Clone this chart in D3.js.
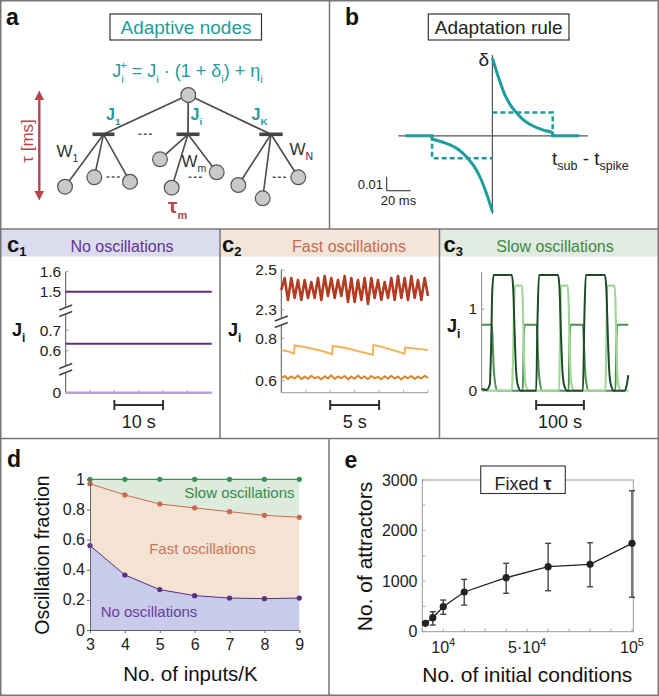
<!DOCTYPE html>
<html><head><meta charset="utf-8">
<script src="https://cdn.jsdelivr.net/npm/d3@7"></script>
<style>
body{margin:0;background:#fff}
svg{display:block}
text{font-family:"Liberation Sans",Arial,Helvetica,sans-serif;white-space:pre}
</style>
</head><body>
<svg id="fig" width="659" height="696"></svg>
<script>
// ================= DATA =================
// panel b : adaptation rule, delta vs (t_sub - t_spike) in ms
const adaptPosT = [0, 5, 10, 15, 20, 25, 30, 35, 40, 45, 50];
const adaptPosV = [0.0555, 0.042, 0.030, 0.022, 0.0165, 0.012, 0.0088, 0.0065, 0.0048, 0.0035, 0.0025];
const adaptNegT = [-50, -45, -40, -35, -30, -25, -20, -15, -10, -5, 0];
const adaptNegV = [-0.0025, -0.0035, -0.0048, -0.0065, -0.0088, -0.012, -0.0165, -0.022, -0.030, -0.041, -0.0543];
const adaptWindow = [-50, 50];
const adaptFlatEnd = [-72, 72];
const adaptDashLevel = [-0.016, 0.0167];

// panel c1 : no oscillations
const c1TickVals = [0, 0.6, 0.7, 1.5, 1.6];
const c1TickLabels = ["0", "0.6", "0.7", "1.5", "1.6"];
const c1Levels = [1.5, 0.635, 0];
const c1ScaleBar = [10, 20]; // s

// panel c2 : fast oscillations (sampled every 15/44 s)
const c2TickVals = [0.6, 0.8, 2.3, 2.5];
const c2TickLabels = ["0.6", "0.8", "2.3", "2.5"];
const c2Red = [2.40, 2.46, 2.35, 2.46, 2.36, 2.45, 2.35, 2.45, 2.36, 2.44, 2.36, 2.46, 2.35, 2.47, 2.37, 2.46,
  2.36, 2.45, 2.37, 2.47, 2.34, 2.46, 2.34, 2.45, 2.35, 2.46, 2.33, 2.46, 2.36, 2.45, 2.35, 2.44, 2.36, 2.46,
  2.35, 2.47, 2.36, 2.46, 2.35, 2.47, 2.36, 2.45, 2.35, 2.46, 2.37];
const c2Orange = [0.612, 0.622, 0.608, 0.620, 0.610, 0.624, 0.607, 0.619, 0.609, 0.623, 0.611, 0.618, 0.606,
  0.621, 0.610, 0.625, 0.608, 0.620, 0.611, 0.622, 0.606, 0.619, 0.609, 0.624, 0.610, 0.620, 0.607, 0.622,
  0.611, 0.618, 0.606, 0.621, 0.609, 0.623, 0.610, 0.619, 0.605, 0.620, 0.611, 0.622, 0.608, 0.619, 0.610, 0.623, 0.612];
const c2YellowT = [0, 0.7, 1.3, 1.36, 2.5, 4.0, 5.2, 5.26, 6.5, 8.0, 9.35, 9.41, 10.5, 12.6, 12.66, 14.0, 15];
const c2YellowV = [0.745, 0.738, 0.728, 0.766, 0.758, 0.742, 0.725, 0.764, 0.755, 0.738, 0.722, 0.768, 0.757, 0.727, 0.757, 0.750, 0.745];
const c2ScaleBar = [5, 10];

// panel c3 : slow oscillations
const c3TickVals = [0, 1];
const c3DarkT = [0, 10, 17, 20, 22, 25, 63, 66, 69, 72, 76, 82, 114, 117, 120, 160, 163, 166, 169, 173, 179, 212, 215, 218, 258, 261, 264, 267, 271, 277, 299, 304, 307];
const c3DarkV = [0.02, 0.01, 0.08, 0.6, 1.2, 1.42, 1.42, 1.25, 0.7, 0.25, 0.06, 0, 0, 0.9, 1.42, 1.42, 1.25, 0.7, 0.25, 0.06, 0, 0, 0.9, 1.42, 1.42, 1.25, 0.7, 0.25, 0.06, 0, 0, 0.08, 0.19];
const c3LightT = [0, 63, 66, 68, 70, 84, 86, 88, 90, 93, 98, 162, 164, 166, 180, 182, 184, 186, 189, 194, 259, 261, 263, 278, 280, 282, 284, 287, 292, 307];
const c3LightV = [0, 0, 0.5, 1.1, 1.29, 1.29, 1.1, 0.6, 0.2, 0.05, 0, 0, 0.6, 1.29, 1.29, 1.1, 0.6, 0.2, 0.05, 0, 0, 0.6, 1.29, 1.29, 1.1, 0.6, 0.2, 0.05, 0, 0];
const c3MidT = [0, 21, 23, 25, 28, 33, 86, 88, 90, 115, 117, 119, 122, 127, 182, 184, 186, 212, 214, 216, 219, 224, 280, 282, 284, 307];
const c3MidV = [0.81, 0.81, 0.6, 0.3, 0.1, 0, 0, 0.6, 0.81, 0.81, 0.6, 0.3, 0.1, 0, 0, 0.6, 0.81, 0.81, 0.6, 0.3, 0.1, 0, 0, 0.6, 0.81, 0.81];
const c3ScaleBar = [114, 214];

// panel d : oscillation fractions (cumulative boundaries)
const dInputs = [3, 4, 5, 6, 7, 8, 9];
const dNoOsc = [0.560, 0.365, 0.268, 0.228, 0.212, 0.208, 0.212];
const dNoPlusFast = [0.971, 0.896, 0.836, 0.810, 0.785, 0.761, 0.748];
const dAll = [1, 1, 1, 1, 1, 1, 1];
const dYTicks = [0, 0.2, 0.4, 0.6, 0.8, 1];
const dYLabels = ["0", "0.2", "0.4", "0.6", "0.8", "1"];

// panel e : number of attractors
const eInit = [1500, 5000, 10000, 20000, 40000, 60000, 80000, 100000];
const eMean = [166, 277, 494, 785, 1068, 1285, 1332, 1747];
const eLow = [166, 132, 344, 527, 759, 810, 889, 680];
const eHigh = [166, 395, 626, 1035, 1352, 1747, 1759, 2787];
const eYTicks = [0, 1000, 2000, 3000];
const eXTicks = [10000, 50000, 100000];
const eXTickLabels = [["10", "4"], ["5·10", "4"], ["10", "5"]];

// ================= DRAWING =================
const svg = d3.select("#fig");
const TEAL = "#1f9c9d", RED = "#b5474c", AX = "#555";

function rich(g, x, y, segs, o = {}) {
  const fs = o.size || 16;
  const t = g.append("text").attr("x", x).attr("y", y).attr("font-size", fs)
    .attr("fill", o.fill || "#222").attr("text-anchor", o.anchor || "start")
    .attr("font-weight", o.weight || "normal");
  if (o.transform) t.attr("transform", o.transform);
  let cur = 0;
  segs.forEach(s => {
    if (typeof s === "string") s = {t: s};
    const off = s.sub ? (s.off ?? fs * 0.32) : s.sup ? -(s.off ?? fs * 0.42) : 0;
    const sp = t.append("tspan").text(s.t);
    if (off - cur !== 0) sp.attr("dy", off - cur);
    if (s.dx) sp.attr("dx", s.dx);
    if (s.sub || s.sup) sp.attr("font-size", s.size || fs * 0.62);
    if (s.weight) sp.attr("font-weight", s.weight);
    if (s.fill) sp.attr("fill", s.fill);
    cur = off;
  });
  return t;
}
function line(g, x1, y1, x2, y2, col, w, extra) {
  const l = g.append("line").attr("x1", x1).attr("y1", y1).attr("x2", x2).attr("y2", y2)
    .attr("stroke", col).attr("stroke-width", w);
  if (extra) l.attr("stroke-dasharray", extra);
  return l;
}

// ---- background bands for c panels
svg.append("rect").attr("x", 1).attr("y", 229).attr("width", 219).attr("height", 27.5).attr("fill", "#dcdcef");
svg.append("rect").attr("x", 220).attr("y", 229).attr("width", 219.5).attr("height", 27.5).attr("fill", "#f3e6d8");
svg.append("rect").attr("x", 439.5).attr("y", 229).attr("width", 219).attr("height", 27.5).attr("fill", "#e1ebe1");

// ---- frame and dividers
const FR = "#777";
svg.append("rect").attr("x", 0.75).attr("y", 0.75).attr("width", 657.5).attr("height", 694.5)
  .attr("fill", "none").attr("stroke", FR).attr("stroke-width", 1.5);
line(svg, 329.5, 0, 329.5, 229, FR, 1.5);
line(svg, 0, 229, 659, 229, FR, 1.5);
line(svg, 220, 229, 220, 438.5, FR, 1.5);
line(svg, 439.5, 229, 439.5, 438.5, FR, 1.5);
line(svg, 0, 438.5, 659, 438.5, FR, 1.5);
line(svg, 329, 438.5, 329, 696, FR, 1.5);

// ================= PANEL a =================
const gA = svg.append("g");
gA.append("text").attr("x", 6).attr("y", 25).attr("font-size", 23).attr("font-weight", "bold").attr("fill", "#111").text("a");
gA.append("rect").attr("x", 110).attr("y", 14).attr("width", 151.5).attr("height", 26)
  .attr("fill", "#fff").attr("stroke", "#333").attr("stroke-width", 1.2);
gA.append("text").attr("x", 186).attr("y", 33.5).attr("text-anchor", "middle").attr("font-size", 19)
  .attr("fill", TEAL).text("Adaptive nodes");
rich(gA, 187.5, 77, ["J", {t: "i", sub: true}, {t: "+", sup: true, dx: -3.5}, " = J", {t: "i", sub: true},
  " · (1 + δ", {t: "i", sub: true}, ") + η", {t: "i", sub: true}], {size: 18, fill: TEAL, anchor: "middle"});

// tree
const rootNode = [188.3, 95];
const bars = [[103.5, 134.3, 11], [188, 134.3, 11.5], [271, 134.3, 11.7]];
const kids = [
  [[65, 186.7], [94.3, 177.3], [130, 181.7]],
  [[160, 159.3], [171.7, 187.7], [216.7, 172.3]],
  [[238.3, 185], [262.7, 198.3], [298.3, 177.3]]
];
const TL = "#4d4d4d";
bars.forEach((b, i) => {
  line(gA, rootNode[0], rootNode[1], b[0], b[1], TL, 1.8);
  kids[i].forEach(k => line(gA, b[0], b[1], k[0], k[1], TL, 1.6));
});
bars.forEach(b => line(gA, b[0] - b[2], b[1], b[0] + b[2], b[1], "#444", 3.6));
const circles = [rootNode].concat(kids.flat());
circles.forEach(c => gA.append("circle").attr("cx", c[0]).attr("cy", c[1]).attr("r", 7.4)
  .attr("fill", "#c9c9c9").attr("stroke", "#555").attr("stroke-width", 1.2));
// dots
[[138.5, 153, 134.3], [106.5, 120, 177], [188.5, 203, 177.3], [272.7, 286.7, 177.3]].forEach(d =>
  line(gA, d[0], d[2], d[1], d[2], "#555", 1.6, "3,2.2"));
// labels
rich(gA, 106, 120, ["J", {t: "1", sub: true}], {size: 16, weight: "bold", fill: TEAL});
rich(gA, 190.5, 120, ["J", {t: "i", sub: true}], {size: 16, weight: "bold", fill: TEAL});
rich(gA, 251.5, 120, ["J", {t: "K", sub: true}], {size: 16, weight: "bold", fill: TEAL});
rich(gA, 56.5, 157, ["W", {t: "1", sub: true}], {size: 17, fill: "#333"});
rich(gA, 181.5, 166.5, ["W", {t: "m", sub: true}], {size: 17, fill: "#333"});
rich(gA, 289.5, 155, ["W", {t: "N", sub: true}], {size: 17, fill: "#333"});
rich(gA, 168, 212.5, ["τ", {t: "m", sub: true, off: 6, size: 11}], {size: 21, weight: "bold", fill: RED});
// red arrow
line(gA, 39.3, 98, 39.3, 193, RED, 2.4);
gA.append("path").attr("d", "M39.3,90.5 L34.5,100 L44.1,100 Z").attr("fill", RED);
gA.append("path").attr("d", "M39.3,200.5 L34.5,191 L44.1,191 Z").attr("fill", RED);
gA.append("text").attr("transform", "translate(32.5,141) rotate(-90)").attr("text-anchor", "middle")
  .attr("font-size", 17).attr("fill", RED).text("τ [ms]");

// ================= PANEL b =================
const gB = svg.append("g");
gB.append("text").attr("x", 345).attr("y", 25).attr("font-size", 23).attr("font-weight", "bold").attr("fill", "#111").text("b");
gB.append("rect").attr("x", 428.3).attr("y", 14).attr("width", 140.7).attr("height", 26)
  .attr("fill", "#fff").attr("stroke", "#333").attr("stroke-width", 1.2);
gB.append("text").attr("x", 498.7).attr("y", 33.5).attr("text-anchor", "middle").attr("font-size", 19)
  .attr("fill", "#222").text("Adaptation rule");
const xB = d3.scaleLinear().domain([-78, 79]).range([398.3, 587.7]);
const yB = d3.scaleLinear().domain([-0.0543, 0.0555]).range([211.7, 58.3]);
line(gB, xB(-78), yB(0), xB(79), yB(0), AX, 1.2);
line(gB, xB(0), 55, xB(0), 214, AX, 1.2);
const lnB = d3.line().x(d => xB(d[0])).y(d => yB(d[1]));
const lnBc = d3.line().x(d => xB(d[0])).y(d => yB(d[1])).curve(d3.curveMonotoneX);
gB.append("path").attr("d", lnBc(adaptPosT.map((t, i) => [t, adaptPosV[i]]))).attr("fill", "none").attr("stroke", TEAL).attr("stroke-width", 3);
gB.append("path").attr("d", lnB([[adaptWindow[1], adaptPosV[adaptPosV.length - 1]], [adaptWindow[1], 0], [adaptFlatEnd[1], 0]])).attr("fill", "none").attr("stroke", TEAL).attr("stroke-width", 3);
gB.append("path").attr("d", lnBc(adaptNegT.map((t, i) => [t, adaptNegV[i]]))).attr("fill", "none").attr("stroke", TEAL).attr("stroke-width", 3);
gB.append("path").attr("d", lnB([[adaptFlatEnd[0], 0], [adaptWindow[0], 0], [adaptWindow[0], adaptNegV[0]]])).attr("fill", "none").attr("stroke", TEAL).attr("stroke-width", 3);
gB.append("path").attr("d", lnB([[0, adaptDashLevel[1]], [adaptWindow[1], adaptDashLevel[1]], [adaptWindow[1], 0]]))
  .attr("fill", "none").attr("stroke", TEAL).attr("stroke-width", 2.6).attr("stroke-dasharray", "5,3");
gB.append("path").attr("d", lnB([[adaptWindow[0], 0], [adaptWindow[0], adaptDashLevel[0]], [0, adaptDashLevel[0]]]))
  .attr("fill", "none").attr("stroke", TEAL).attr("stroke-width", 2.6).attr("stroke-dasharray", "5,3");
gB.append("text").attr("x", 489).attr("y", 66).attr("text-anchor", "end").attr("font-size", 19).attr("fill", "#222").text("δ");
rich(gB, 552, 165, ["t", {t: "sub", sub: true, off: 4.5, size: 12.5}, " - t", {t: "spike", sub: true, off: 4.5, size: 12.5}], {size: 19, fill: "#222"});
// scale bar 0.01 / 20 ms
line(gB, 386.7, 190.7 - (yB(0) - yB(0.01)), 386.7, 190.7, "#333", 1.1);
line(gB, 386.7, 190.7, 386.7 + (xB(20) - xB(0)), 190.7, "#333", 1.1);
gB.append("text").attr("x", 383).attr("y", 189).attr("text-anchor", "end").attr("font-size", 13).attr("fill", "#222").text("0.01");
gB.append("text").attr("x", 398.5).attr("y", 205).attr("text-anchor", "middle").attr("font-size", 13).attr("fill", "#222").text("20 ms");

// ================= PANEL c helpers =================
function cHeader(x, sub, title, tx, col) {
  rich(svg, x, 251.5, ["c", {t: sub, sub: true, off: 4, size: 13}], {size: 22, weight: "bold", fill: "#111"});
  svg.append("text").attr("x", tx).attr("y", 251.5).attr("text-anchor", "middle").attr("font-size", 16)
    .attr("fill", col).text(title);
}
function jLabel(x, y) {
  rich(svg, x, y, ["J", {t: "i", sub: true, off: 6, size: 12}], {size: 18, weight: "bold", fill: "#111"});
}
function scaleBar(g, xs, t0, t1, label) {
  const a = xs(t0), b = xs(t1), y = 405;
  line(g, a, y, b, y, "#333", 2);
  line(g, a, y - 5, a, y + 5, "#333", 2);
  line(g, b, y - 5, b, y + 5, "#333", 2);
  g.append("text").attr("x", (a + b) / 2).attr("y", 428).attr("text-anchor", "middle").attr("font-size", 18)
    .attr("fill", "#222").text(label);
}
function breakMark(g, x, y) {
  line(g, x - 6.5, y + 2.5, x + 6.5, y - 2.5, "#444", 1.6);
  line(g, x - 6.5, y + 9, x + 6.5, y + 4, "#444", 1.6);
}
function yTicks(g, ys, x0, vals, labels) {
  vals.forEach((v, i) => {
    line(g, x0, ys(v), x0 + 3, ys(v), "#888", 0.8);
    g.append("text").attr("x", x0 - 4.5).attr("y", ys(v) + 5.3).attr("text-anchor", "end")
      .attr("font-size", 15.5).attr("fill", "#222").text(labels[i]);
  });
}
function xTicks(g, xs, vals, y) {
  vals.forEach(v => line(g, xs(v), y, xs(v), y - 3, "#999", 0.8));
}

// ================= PANEL c1 =================
const gC1 = svg.append("g");
cHeader(7, "1", "No oscillations", 122, "#5f3594");
const xC1 = d3.scaleLinear().domain([0, 30]).range([65.7, 211.7]);
const yC1 = d3.scaleLinear().domain([0, 0.07, 0.553, 0.75, 1.46, 1.6]).range([392.7, 378.7, 360.5, 320, 299.7, 271.7]);
line(gC1, 65.7, 271.7, 65.7, 307.5, AX, 1);
line(gC1, 65.7, 314, 65.7, 365.5, AX, 1);
line(gC1, 65.7, 372, 65.7, 392.7, AX, 1);
line(gC1, 65.7, 392.7, 211.7, 392.7, "#999", 1);
xTicks(gC1, xC1, [5, 10, 15, 20, 25], 392.7);
breakMark(gC1, 65.7, 307.5);
breakMark(gC1, 65.7, 366);
yTicks(gC1, yC1, 65.7, c1TickVals, c1TickLabels);
const c1Cols = ["#5b2e7f", "#5b2e7f", "#b99cd9"];
c1Levels.forEach((v, i) => {
  gC1.append("path").attr("d", d3.line().x(d => xC1(d[0])).y(d => yC1(d[1]))([[0, v], [30, v]]))
    .attr("stroke", c1Cols[i]).attr("stroke-width", i === 2 ? 2.6 : 2).attr("fill", "none");
});
jLabel(12, 336);
scaleBar(gC1, xC1, c1ScaleBar[0], c1ScaleBar[1], "10 s");

// ================= PANEL c2 =================
const gC2 = svg.append("g");
cHeader(222, "2", "Fast oscillations", 349, "#c46a55");
const xC2 = d3.scaleLinear().domain([0, 15]).range([281.3, 428]);
const yC2 = d3.scaleLinear().domain([0.543, 0.85, 2.27, 2.5]).range([392.7, 327.7, 316, 270]);
line(gC2, 281.3, 270, 281.3, 318, AX, 1);
line(gC2, 281.3, 325.5, 281.3, 392.7, AX, 1);
line(gC2, 281.3, 392.7, 428, 392.7, "#999", 1);
xTicks(gC2, xC2, [2.5, 5, 7.5, 10, 12.5, 15], 392.7);
breakMark(gC2, 281.3, 318.5);
yTicks(gC2, yC2, 281.3, c2TickVals, c2TickLabels);
const dtC2 = 15 / (c2Red.length - 1);
const lnC2 = d3.line().x((d, i) => xC2(i * dtC2)).y(d => yC2(d));
gC2.append("path").attr("d", lnC2(c2Red)).attr("fill", "none").attr("stroke", "#b23b22").attr("stroke-width", 2.6).attr("stroke-linejoin", "round");
gC2.append("path").attr("d", lnC2(c2Orange)).attr("fill", "none").attr("stroke", "#d6862e").attr("stroke-width", 2).attr("stroke-linejoin", "round");
gC2.append("path").attr("d", d3.line().x(d => xC2(d[0])).y(d => yC2(d[1]))(c2YellowT.map((t, i) => [t, c2YellowV[i]])))
  .attr("fill", "none").attr("stroke", "#f0b35a").attr("stroke-width", 2);
jLabel(228, 336);
scaleBar(gC2, xC2, c2ScaleBar[0], c2ScaleBar[1], "5 s");

// ================= PANEL c3 =================
const gC3 = svg.append("g");
cHeader(443.5, "3", "Slow oscillations", 555, "#3a8a48");
const xC3 = d3.scaleLinear().domain([0, 307]).range([481.7, 628.3]);
const yC3 = d3.scaleLinear().domain([0, 1.46]).range([390.7, 271.7]);
line(gC3, 481.7, 271.7, 481.7, 390.7, "#888", 1);
yTicks(gC3, yC3, 481.7, c3TickVals, ["0", "1"]);
const lnC3 = d3.line().x(d => xC3(d[0])).y(d => yC3(d[1])).curve(d3.curveMonotoneX);
gC3.append("path").attr("d", lnC3(c3MidT.map((t, i) => [t, c3MidV[i]]))).attr("fill", "none").attr("stroke", "#4f8f52").attr("stroke-width", 2);
gC3.append("path").attr("d", lnC3(c3LightT.map((t, i) => [t, c3LightV[i]]))).attr("fill", "none").attr("stroke", "#a3d69b").attr("stroke-width", 2.2);
gC3.append("path").attr("d", lnC3(c3DarkT.map((t, i) => [t, c3DarkV[i]]))).attr("fill", "none").attr("stroke", "#1d4a29").attr("stroke-width", 2);
jLabel(447, 332);
scaleBar(gC3, xC3, c3ScaleBar[0], c3ScaleBar[1], "100 s");

// ================= PANEL d =================
const gD = svg.append("g");
gD.append("text").attr("x", 7).attr("y", 466.5).attr("font-size", 23).attr("font-weight", "bold").attr("fill", "#111").text("d");
const xD = d3.scaleLinear().domain([3, 9]).range([90, 299.3]);
const yD = d3.scaleLinear().domain([0, 1]).range([630, 479.3]);
const rowsD = dInputs.map((k, i) => ({k, no: dNoOsc[i], fast: dNoPlusFast[i], all: dAll[i]}));
const area = (lo, hi) => d3.area().x(d => xD(d.k)).y0(d => yD(lo(d))).y1(d => yD(hi(d)));
gD.append("path").attr("d", area(d => d.fast, d => d.all)(rowsD)).attr("fill", "#dcebdc");
gD.append("path").attr("d", area(d => d.no, d => d.fast)(rowsD)).attr("fill", "#f4e3d2");
gD.append("path").attr("d", area(d => 0, d => d.no)(rowsD)).attr("fill", "#c9cbeb");
const seriesD = [["all", "#3b9150", 1.2], ["fast", "#c8694f", 1], ["no", "#5a2d86", 1]];
seriesD.forEach(([key, col, w]) => {
  gD.append("path").attr("d", d3.line().x(d => xD(d.k)).y(d => yD(d[key]))(rowsD))
    .attr("fill", "none").attr("stroke", col).attr("stroke-width", w);
  gD.selectAll(null).data(rowsD).enter().append("circle").attr("cx", d => xD(d.k)).attr("cy", d => yD(d[key]))
    .attr("r", 2.6).attr("fill", col);
});
const axDy = gD.append("g").attr("transform", "translate(90,0)")
  .call(d3.axisLeft(yD).tickValues(dYTicks).tickFormat((d, i) => dYLabels[i]).tickSize(3).tickPadding(2));
const axDx = gD.append("g").attr("transform", "translate(0,630)")
  .call(d3.axisBottom(xD).tickValues(dInputs).tickFormat(d3.format("d")).tickSize(3).tickPadding(5.5));
[axDy, axDx].forEach(a => {
  a.selectAll("path,line").attr("stroke", "#666");
  a.selectAll("text").attr("font-size", 16).attr("fill", "#222");
  a.attr("font-family", null);
});
gD.append("text").attr("x", 239.5).attr("y", 497.5).attr("text-anchor", "middle").attr("font-size", 15).attr("fill", "#3a8a48").text("Slow oscillations");
gD.append("text").attr("x", 202.5).attr("y", 553.5).attr("text-anchor", "middle").attr("font-size", 15).attr("fill", "#c7765e").text("Fast oscillations");
gD.append("text").attr("x", 149).attr("y", 616.5).attr("text-anchor", "middle").attr("font-size", 15).attr("fill", "#6a3d9e").text("No oscillations");
gD.append("text").attr("transform", "translate(49,555) rotate(-90)").attr("text-anchor", "middle")
  .attr("font-size", 19.5).attr("fill", "#111").text("Oscillation fraction");
gD.append("text").attr("x", 190.5).attr("y", 681).attr("text-anchor", "middle")
  .attr("font-size", 20.5).attr("fill", "#111").text("No. of inputs/K");

// ================= PANEL e =================
const gE = svg.append("g");
gE.append("text").attr("x", 344.5).attr("y", 468).attr("font-size", 23).attr("font-weight", "bold").attr("fill", "#111").text("e");
const xE = d3.scaleLinear().domain([0, 100000]).range([422.3, 632]);
const yE = d3.scaleLinear().domain([0, 3000]).range([631.7, 480]);
gE.append("rect").attr("x", 422.3).attr("y", 480).attr("width", 633.3 - 422.3).attr("height", 631.7 - 480)
  .attr("fill", "none").attr("stroke", "#999").attr("stroke-width", 1);
d3.range(0, 3001, 500).forEach(v => line(gE, 422.3, yE(v), 425.5, yE(v), "#999", 0.8));
d3.range(0, 100001, 10000).forEach(v => line(gE, xE(v), 631.7, xE(v), 628.5, "#999", 0.8));
eYTicks.forEach(v => gE.append("text").attr("x", 417.5).attr("y", yE(v) + 5.5).attr("text-anchor", "end")
  .attr("font-size", 16).attr("fill", "#222").text(v));
eXTicks.forEach((v, i) => rich(gE, xE(v), 653, [eXTickLabels[i][0], {t: eXTickLabels[i][1], sup: true, off: 7, size: 11}],
  {size: 16, fill: "#222", anchor: "middle"}));
// error bars
eInit.forEach((n, i) => {
  if (eHigh[i] - eLow[i] < 20) return;
  const x = xE(n);
  line(gE, x, yE(eLow[i]), x, yE(eHigh[i]), "#444", 1.4);
  line(gE, x - 3, yE(eLow[i]), x + 3, yE(eLow[i]), "#444", 1.4);
  line(gE, x - 3, yE(eHigh[i]), x + 3, yE(eHigh[i]), "#444", 1.4);
});
gE.append("path").attr("d", d3.line().x((d, i) => xE(eInit[i])).y(d => yE(d))(eMean))
  .attr("fill", "none").attr("stroke", "#222").attr("stroke-width", 1.3);
gE.selectAll(null).data(eMean).enter().append("circle").attr("cx", (d, i) => xE(eInit[i])).attr("cy", d => yE(d))
  .attr("r", 3.6).attr("fill", "#222");
gE.append("rect").attr("x", 480.7).attr("y", 466).attr("width", 84.6).attr("height", 27.5)
  .attr("fill", "#fff").attr("stroke", "#333").attr("stroke-width", 1.1);
rich(gE, 523, 489.5, ["Fixed ", {t: "τ", weight: "bold"}], {size: 18, fill: "#222", anchor: "middle"});
gE.append("text").attr("transform", "translate(371.5,556.5) rotate(-90)").attr("text-anchor", "middle")
  .attr("font-size", 21).attr("fill", "#111").text("No. of attractors");
gE.append("text").attr("x", 527.3).attr("y", 681.5).attr("text-anchor", "middle")
  .attr("font-size", 21).attr("fill", "#111").text("No. of initial conditions");
</script>
</body></html>
